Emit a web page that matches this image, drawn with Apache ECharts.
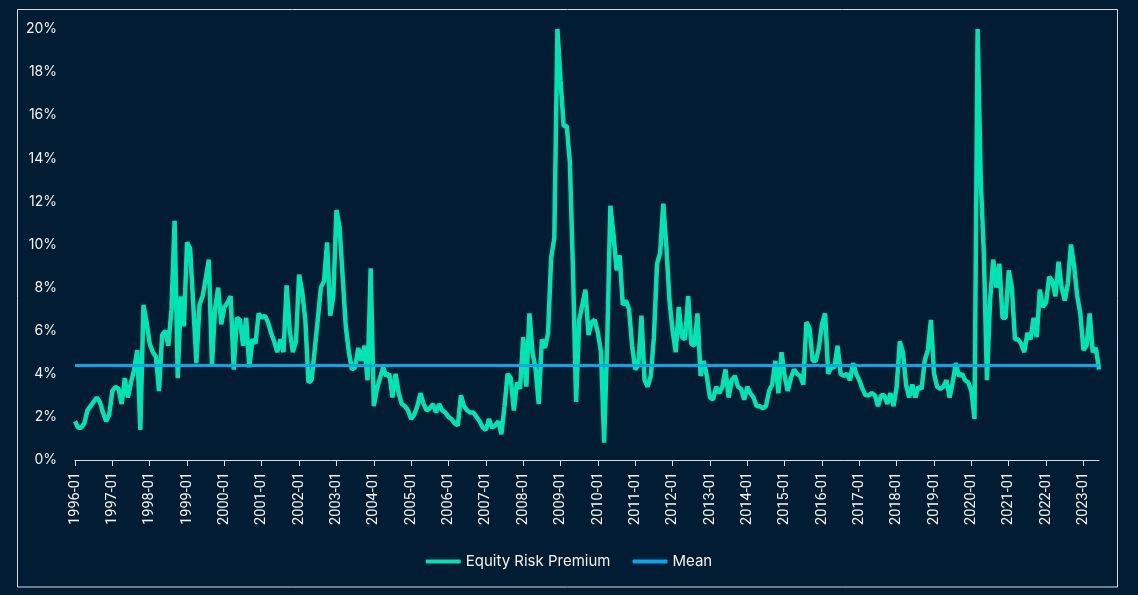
<!DOCTYPE html>
<html>
<head>
<meta charset="utf-8">
<script src="https://cdn.jsdelivr.net/npm/echarts@6/dist/echarts.min.js"></script>
<style>
html,body{margin:0;padding:0;background:#021d33;}
#chart{width:1138px;height:595px;}
</style>
</head>
<body>
<div id="chart"></div>
<script>
// Monthly Equity Risk Premium (%), 1996-01 .. 2023-06
const erp1996 = [1.8, 1.5, 1.5, 1.7, 2.3, 2.5, 2.7, 2.9, 2.7, 2.2, 1.8, 2.1];
const erp1997 = [3.2, 3.4, 3.3, 2.6, 3.8, 2.9, 3.6, 4.2, 5.1, 1.4, 7.2, 6.4];
const erp1998 = [5.4, 5.0, 4.8, 3.2, 5.8, 6.0, 5.3, 7.0, 11.1, 3.8, 7.6, 6.2];
const erp1999 = [10.1, 9.8, 7.2, 4.5, 7.2, 7.6, 8.4, 9.3, 4.4, 7.0, 8.0, 6.3];
const erp2000 = [7.1, 7.3, 7.6, 4.2, 6.6, 6.5, 5.3, 6.6, 4.3, 5.6, 5.4, 6.8];
const erp2001 = [6.6, 6.7, 6.4, 5.9, 5.5, 5.0, 5.6, 5.0, 8.1, 6.0, 5.0, 5.5];
const erp2002 = [8.6, 7.8, 6.5, 3.6, 3.7, 5.1, 6.5, 8.0, 8.3, 10.1, 6.7, 7.6];
const erp2003 = [11.6, 10.8, 8.5, 6.2, 5.0, 4.2, 4.3, 5.2, 4.6, 5.3, 3.7, 8.9];
const erp2004 = [2.5, 3.3, 3.8, 4.3, 3.9, 4.0, 2.9, 4.0, 3.1, 2.6, 2.5, 2.3];
const erp2005 = [1.9, 2.1, 2.5, 3.1, 2.6, 2.3, 2.4, 2.6, 2.2, 2.6, 2.3, 2.2];
const erp2006 = [2.0, 1.9, 1.7, 1.6, 3.0, 2.5, 2.3, 2.2, 2.2, 2.0, 1.8, 1.5];
const erp2007 = [1.4, 1.9, 1.5, 1.6, 1.8, 1.2, 2.5, 4.0, 3.8, 2.3, 3.6, 3.3];
const erp2008 = [5.7, 3.4, 6.8, 5.0, 4.2, 2.6, 5.6, 5.2, 5.9, 9.4, 10.3, 20.0];
const erp2009 = [17.6, 15.5, 15.5, 13.8, 8.8, 2.7, 6.5, 7.2, 7.9, 5.8, 6.4, 6.5];
const erp2010 = [5.9, 5.0, 0.8, 5.5, 11.8, 10.5, 8.8, 9.5, 7.2, 7.4, 7.0, 5.3];
const erp2011 = [4.2, 4.4, 6.7, 3.7, 3.4, 3.9, 5.7, 9.1, 9.6, 11.9, 9.9, 7.4];
const erp2012 = [6.0, 5.0, 7.1, 5.7, 5.6, 7.6, 5.4, 5.3, 6.8, 3.9, 4.6, 3.9];
const erp2013 = [2.9, 2.8, 3.4, 3.1, 3.4, 4.2, 2.9, 3.7, 3.9, 3.4, 3.3, 2.8];
const erp2014 = [3.4, 3.1, 2.9, 2.5, 2.5, 2.4, 2.5, 3.2, 3.5, 4.6, 3.1, 5.0];
const erp2015 = [3.9, 3.2, 3.8, 4.2, 4.0, 3.9, 3.5, 6.4, 6.1, 4.6, 4.6, 5.2];
const erp2016 = [6.3, 6.8, 4.0, 4.3, 4.3, 5.3, 4.0, 3.9, 4.0, 3.7, 4.5, 4.0];
const erp2017 = [3.7, 3.3, 3.0, 3.0, 3.1, 3.0, 2.5, 3.0, 3.0, 2.6, 3.1, 2.5];
const erp2018 = [3.4, 5.5, 5.0, 3.5, 2.9, 3.5, 2.9, 3.4, 3.3, 4.6, 5.1, 6.5];
const erp2019 = [4.0, 3.4, 3.3, 3.4, 3.7, 2.9, 3.6, 4.5, 3.9, 4.0, 3.7, 3.6];
const erp2020 = [3.2, 1.9, 20.0, 13.0, 9.6, 3.7, 7.4, 9.3, 8.0, 9.1, 6.6, 6.6];
const erp2021 = [8.8, 8.0, 5.6, 5.6, 5.4, 5.0, 5.9, 5.6, 6.6, 5.7, 7.9, 7.1];
const erp2022 = [7.3, 8.5, 8.3, 7.6, 9.2, 8.0, 7.4, 8.2, 10.0, 9.0, 7.6, 6.8];
const erp2023 = [5.1, 5.3, 6.8, 5.0, 5.2, 4.2];

const meanValue = 4.4;
const yTicks = [0, 2, 4, 6, 8, 10, 12, 14, 16, 18, 20];
const seriesNames = ['Equity Risk Premium', 'Mean'];

const yearly = [erp1996, erp1997, erp1998, erp1999, erp2000, erp2001, erp2002, erp2003,
  erp2004, erp2005, erp2006, erp2007, erp2008, erp2009, erp2010, erp2011, erp2012,
  erp2013, erp2014, erp2015, erp2016, erp2017, erp2018, erp2019, erp2020, erp2021,
  erp2022, erp2023];

const categories = [];
const values = [];
yearly.forEach((arr, yi) => {
  const y = 1996 + yi;
  arr.forEach((v, mi) => {
    categories.push(y + '-' + String(mi + 1).padStart(2, '0'));
    values.push(v);
  });
});

const chart = echarts.init(document.getElementById('chart'));
const isJan = (idx, val) => /-01$/.test(val);
chart.setOption({
  backgroundColor: '#021d33',
  animation: false,
  graphic: [{
    type: 'rect',
    shape: { x: 17.5, y: 9.5, width: 1100, height: 577.5 },
    style: { fill: 'none', stroke: '#d9dde2', lineWidth: 1 },
    silent: true
  }],
  grid: { left: 75, right: 39, top: 29, bottom: 135 },
  legend: {
    data: seriesNames,
    top: 549,
    left: 'center',
    icon: 'roundRect',
    itemWidth: 35,
    itemHeight: 4,
    itemGap: 22,
    textStyle: { color: '#f0f2f4', fontSize: 15, fontFamily: 'Inter, "Noto Sans", sans-serif' }
  },
  xAxis: {
    type: 'category',
    data: categories,
    boundaryGap: false,
    axisLine: { lineStyle: { color: '#d9dde2', width: 1 } },
    axisTick: { show: true, interval: isJan, length: 6, lineStyle: { color: '#d9dde2' } },
    axisLabel: {
      interval: isJan,
      rotate: 90,
      margin: 12,
      color: '#f0f2f4',
      fontSize: 14.5,
      fontFamily: 'Roboto, "Liberation Sans", sans-serif'
    },
    splitLine: { show: false }
  },
  yAxis: {
    type: 'value',
    min: yTicks[0],
    max: yTicks[yTicks.length - 1],
    interval: 2,
    axisLine: { show: false },
    axisTick: { show: false },
    splitLine: { show: false },
    axisLabel: {
      formatter: '{value}%',
      margin: 18,
      color: '#f0f2f4',
      fontSize: 14,
      fontFamily: 'Inter, "Noto Sans", sans-serif'
    }
  },
  series: [
    {
      name: seriesNames[0],
      type: 'line',
      data: values,
      symbol: 'none',
      showSymbol: false,
      color: '#00e4b4',
      lineStyle: { color: '#00e4b4', width: 4.5 },
      z: 2
    },
    {
      name: seriesNames[1],
      type: 'line',
      data: [],
      symbol: 'none',
      color: '#00aaec',
      lineStyle: { color: '#00aaec', width: 3 },
      markLine: {
        silent: true,
        symbol: ['none', 'none'],
        label: { show: false },
        lineStyle: { color: '#00aaec', width: 3, type: 'solid' },
        data: [{ yAxis: meanValue }]
      },
      z: 3
    }
  ]
});
</script>
</body>
</html>
